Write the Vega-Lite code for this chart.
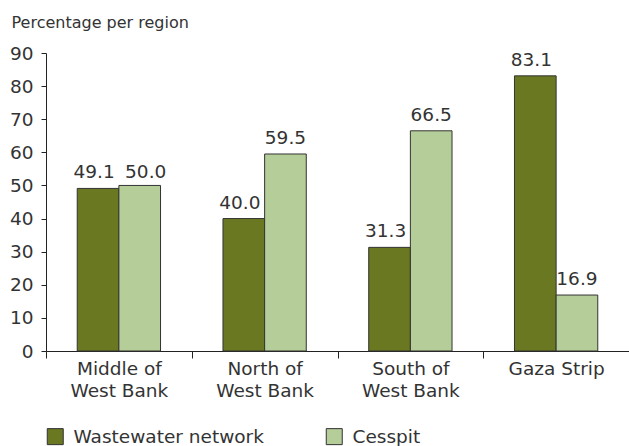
{
  "$schema": "https://vega.github.io/schema/vega-lite/v6.json",
  "width": 583,
  "height": 298,
  "autosize": "none",
  "padding": {"left": 46, "top": 53, "right": 0, "bottom": 95},
  "background": "white",
  "config": {
    "view": {"stroke": null},
    "font": "DejaVu Sans",
    "text": {"font": "DejaVu Sans"}
  },
  "data": {
    "values": [
      {"region": "Middle of West Bank", "type": "Wastewater network", "value": 49.1},
      {"region": "Middle of West Bank", "type": "Cesspit", "value": 50.0},
      {"region": "North of West Bank", "type": "Wastewater network", "value": 40.0},
      {"region": "North of West Bank", "type": "Cesspit", "value": 59.5},
      {"region": "South of West Bank", "type": "Wastewater network", "value": 31.3},
      {"region": "South of West Bank", "type": "Cesspit", "value": 66.5},
      {"region": "Gaza Strip", "type": "Wastewater network", "value": 83.1},
      {"region": "Gaza Strip", "type": "Cesspit", "value": 16.9}
    ]
  },
  "encoding": {
    "x": {
      "field": "region",
      "type": "nominal",
      "sort": ["Middle of West Bank", "North of West Bank", "South of West Bank", "Gaza Strip"],
      "scale": {"paddingInner": 0, "paddingOuter": 0},
      "axis": {
        "title": null,
        "labelAngle": 0,
        "labelFontSize": 18.5,
        "labelColor": "#333",
        "labelLineHeight": 22,
        "labelBaseline": "top",
        "labelPadding": 1,
        "labelLimit": 300,
        "tickBand": "extent",
        "tickSize": 7,
        "tickColor": "#222",
        "domainColor": "#222",
        "labelExpr": "indexof(datum.label, ' of ') >= 0 ? [slice(datum.label, 0, indexof(datum.label, ' of ') + 3), slice(datum.label, indexof(datum.label, ' of ') + 4)] : datum.label"
      }
    },
    "xOffset": {
      "field": "type",
      "type": "nominal",
      "sort": ["Wastewater network", "Cesspit"],
      "scale": {"paddingInner": 0, "paddingOuter": 0.75}
    },
    "y": {
      "field": "value",
      "type": "quantitative",
      "scale": {"domain": [0, 90], "nice": false},
      "axis": {
        "values": [0, 10, 20, 30, 40, 50, 60, 70, 80, 90],
        "grid": false,
        "labelFontSize": 18.5,
        "labelColor": "#333",
        "labelPadding": 8,
        "tickSize": 5,
        "tickColor": "#222",
        "domainColor": "#222",
        "title": "Percentage per region",
        "titleAngle": 0,
        "titleAlign": "left",
        "titleBaseline": "alphabetic",
        "titleX": -35,
        "titleY": -26,
        "titleFontSize": 16,
        "titleFontWeight": "normal",
        "titleColor": "#333"
      }
    }
  },
  "layer": [
    {
      "mark": {"type": "bar", "stroke": "#333", "strokeWidth": 1},
      "encoding": {
        "color": {
          "field": "type",
          "type": "nominal",
          "sort": ["Wastewater network", "Cesspit"],
          "scale": {"domain": ["Wastewater network", "Cesspit"], "range": ["#6a7821", "#b5cd98"]},
          "legend": {
            "title": null,
            "orient": "none",
            "direction": "horizontal",
            "legendX": 0,
            "legendY": 374,
            "symbolType": "square",
            "symbolSize": 256,
            "symbolStrokeColor": "#333",
            "symbolStrokeWidth": 1,
            "symbolOpacity": 1,
            "labelFontSize": 18.5,
            "labelColor": "#333",
            "labelOffset": 9,
            "labelLimit": 400,
            "columnPadding": 60,
            "padding": 0
          }
        }
      }
    },
    {
      "transform": [{"filter": "datum.type === 'Wastewater network'"}],
      "mark": {"type": "text", "baseline": "alphabetic", "dy": -10, "dx": -4, "fontSize": 18.5, "color": "#333"},
      "encoding": {
        "text": {"field": "value", "type": "quantitative", "format": ".1f"}
      }
    },
    {
      "transform": [{"filter": "datum.type === 'Cesspit' && datum.region !== 'Middle of West Bank'"}],
      "mark": {"type": "text", "baseline": "alphabetic", "dy": -10, "fontSize": 18.5, "color": "#333"},
      "encoding": {
        "text": {"field": "value", "type": "quantitative", "format": ".1f"}
      }
    },
    {
      "transform": [{"filter": "datum.type === 'Cesspit' && datum.region === 'Middle of West Bank'"}],
      "mark": {"type": "text", "baseline": "alphabetic", "dy": -7, "dx": 6, "fontSize": 18.5, "color": "#333"},
      "encoding": {
        "text": {"field": "value", "type": "quantitative", "format": ".1f"}
      }
    }
  ]
}
